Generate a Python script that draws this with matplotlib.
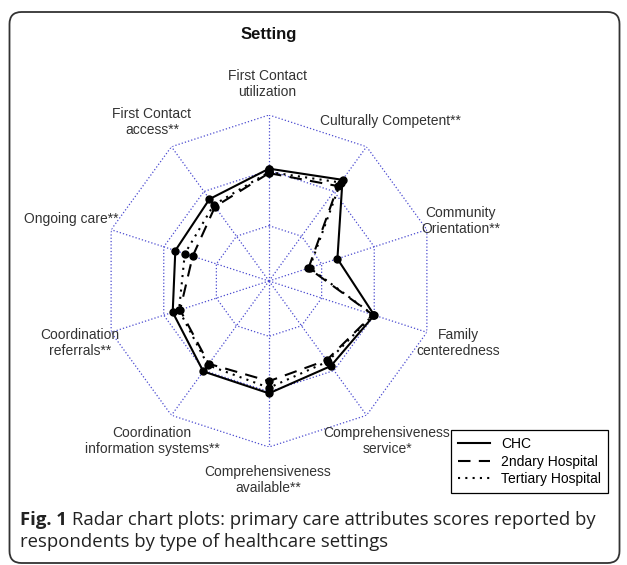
import numpy as np
import matplotlib.pyplot as plt
from matplotlib.patches import FancyBboxPatch
from matplotlib.transforms import IdentityTransform

# attribute labels, clockwise from the top
attributes = ['First Contact\nutilization', 'Culturally Competent**', 'Community\nOrientation**',
              'Family\ncenteredness', 'Comprehensiveness\nservice*', 'Comprehensiveness\navailable**',
              'Coordination\ninformation systems**', 'Coordination\nreferrals**', 'Ongoing care**',
              'First Contact\naccess**']

# mean scores (1-4 scale)
chc = [3.03, 3.26, 2.30, 3.00, 2.90, 3.03, 3.02, 2.83, 2.78, 2.83]
secondary = [2.95, 3.12, 1.75, 2.97, 2.77, 2.81, 2.85, 2.69, 2.45, 2.66]
tertiary = [2.97, 3.20, 1.77, 2.98, 2.80, 2.93, 2.88, 2.71, 2.60, 2.70]

series_names = ['CHC', '2ndary Hospital', 'Tertiary Hospital']
ring_levels = [2, 3, 4]

W, H = 627, 565
fig = plt.figure(figsize=(W / 100, H / 100), dpi=100)
plt.rcParams['font.family'] = 'Liberation Sans'

# frame round the whole figure
frame = FancyBboxPatch((9.5, 2), 610, 551, boxstyle='round,pad=0,rounding_size=12',
                       transform=IdentityTransform(), fill=False, edgecolor='#333333', linewidth=1.3)
fig.patches.append(frame)

# radar axes: centre at (269, 281) px, radius 166 px
cx, cy, R = 269, 281, 166
ax = fig.add_axes([(cx - R) / W, (H - cy - R) / H, 2 * R / W, 2 * R / H], projection='polar')
ax.set_theta_zero_location('N')
ax.set_theta_direction(-1)
ax.set_ylim(1, 4)
ax.grid(False)
ax.spines['polar'].set_visible(False)
ax.set_xticks([])
ax.set_yticks([])
ax.patch.set_alpha(0)

n = len(attributes)
theta = np.arange(n) * 2 * np.pi / n
theta_c = np.append(theta, theta[0])

grid_col = '#4a4ad0'
for lv in ring_levels:
    ax.plot(theta_c, [lv] * (n + 1), color=grid_col, linestyle=':', linewidth=0.9)
for t in theta:
    ax.plot([t, t], [1, 4], color=grid_col, linestyle=':', linewidth=0.9)

styles = ['-', (0, (6, 4)), (0, (1, 2.5))]
handles = []
for vals, name, ls in zip([chc, secondary, tertiary], series_names, styles):
    v = np.append(vals, vals[0])
    ln, = ax.plot(theta_c, v, color='black', linestyle=ls, linewidth=1.5, label=name,
                  marker='o', markersize=5)
    handles.append(ln)

# attribute labels (pixel positions)
label_xy = [(267, 84), (390, 121), (461, 221), (458, 343), (387, 441),
            (268, 480), (152, 441), (80, 343), (71, 219), (152, 122)]
for lab, (x, y) in zip(attributes, label_xy):
    fig.text(x / W, 1 - y / H, lab, ha='center', va='center', fontsize=10,
             color='#333333', linespacing=1.15)

fig.text(269 / W, 1 - 34 / H, 'Setting', ha='center', va='center', fontsize=12,
         fontweight='bold', color='#111111')

leg = fig.legend(handles, series_names, loc='lower right', bbox_to_anchor=(608 / W, 1 - 493 / H),
                 fontsize=10, frameon=True, fancybox=False, framealpha=1,
                 edgecolor='black', handlelength=2.3, borderpad=0.5, labelspacing=0.25,
                 handletextpad=0.8, borderaxespad=0)
leg.get_frame().set_linewidth(0.9)
for h in leg.get_lines():
    h.set_marker('')
    h.set_linewidth(1.5)

# caption
cap_kw = dict(fontsize=13.3, color='#222222', va='baseline', family='Open Sans')
t1 = fig.text(20 / W, 1 - 525 / H, 'Fig. 1', fontweight='bold', **cap_kw)
fig.canvas.draw()
bb = t1.get_window_extent()
fig.text((bb.x1 + 5) / W, 1 - 525 / H,
         'Radar chart plots: primary care attributes scores reported by', **cap_kw)
fig.text(20 / W, 1 - 547 / H, 'respondents by type of healthcare settings', **cap_kw)

fig.savefig('out.png', dpi=100)
